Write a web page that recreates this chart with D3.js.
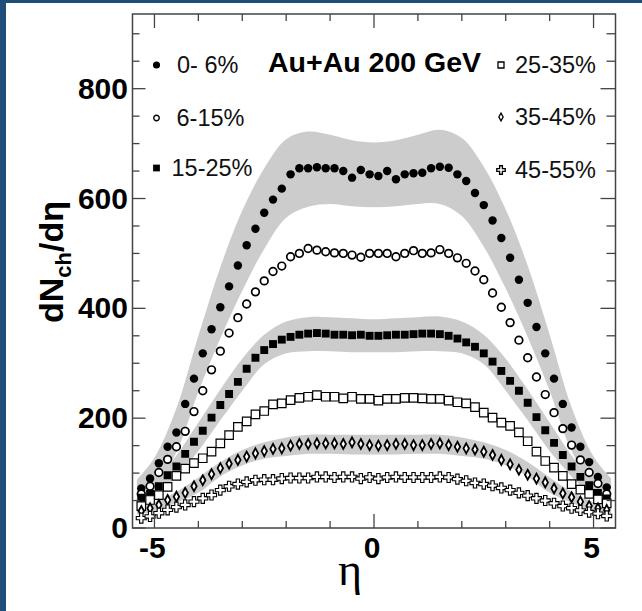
<!DOCTYPE html>
<html>
<head>
<meta charset="utf-8">
<script src="https://cdn.jsdelivr.net/npm/d3@7"></script>
<style>
  html, body { margin: 0; padding: 0; background: #fff; }
  svg { display: block; }
</style>
</head>
<body>
<div id="chart"></div>
<script>
// pseudorapidity bin centres
const eta = [-5.3, -5.1, -4.9, -4.7, -4.5, -4.3, -4.1, -3.9, -3.7, -3.5, -3.3, -3.1, -2.9, -2.7, -2.5, -2.3, -2.1, -1.9, -1.7, -1.5, -1.3, -1.1, -0.9, -0.7, -0.5, -0.3, -0.1,
             0.1, 0.3, 0.5, 0.7, 0.9, 1.1, 1.3, 1.5, 1.7, 1.9, 2.1, 2.3, 2.5, 2.7, 2.9, 3.1, 3.3, 3.5, 3.7, 3.9, 4.1, 4.3, 4.5, 4.7, 4.9, 5.1, 5.3];

const centralities = ["0- 6%", "6-15%", "15-25%", "25-35%", "35-45%", "45-55%"];

const c0_6 = [72, 90, 118, 148, 174, 226, 272, 318, 362, 402, 440, 478, 515, 545, 574, 598, 618, 644, 655, 655, 657, 655, 655, 650, 638, 652, 644,
              641, 650, 635, 644, 646, 647, 655, 658, 656, 644, 632, 610, 588, 560, 528, 492, 452, 410, 366, 318, 272, 226, 183, 148, 120, 93, 74];
const c6_15 = [62, 76, 101, 125, 148, 176, 212, 250, 288, 322, 355, 383, 408, 430, 450, 467, 477, 494, 500, 509, 506, 503, 501, 500, 497, 493, 500,
               500, 500, 494, 500, 505, 500, 501, 507, 500, 492, 482, 468, 452, 428, 402, 374, 342, 310, 275, 243, 210, 181, 151, 124, 101, 81, 62];
const c15_25 = [55, 62, 76, 96, 112, 135, 157, 177, 201, 224, 244, 266, 290, 310, 324, 335, 343, 348, 352, 354, 355, 354, 352, 352, 351, 352, 350,
                350, 351, 352, 352, 353, 354, 354, 353, 350, 345, 338, 330, 318, 303, 286, 268, 250, 228, 202, 178, 155, 133, 112, 93, 78, 64, 54];
const c25_35 = [40, 51, 60, 75, 95, 108, 118, 127, 139, 154, 169, 184, 194, 207, 213, 225, 227, 233, 237, 239, 242, 239, 239, 236, 239, 235, 235,
                232, 235, 235, 237, 237, 236, 235, 235, 232, 229, 227, 220, 210, 201, 192, 186, 174, 158, 139, 122, 110, 95, 80, 70, 62, 52, 45];
const c35_45 = [31, 36, 42, 51, 57, 64, 76, 87, 98, 109, 117, 124, 130, 136, 140, 144, 145, 150, 153, 153, 154, 154, 154, 153, 156, 153, 151,
                150, 151, 153, 153, 151, 151, 153, 154, 151, 148, 145, 143, 139, 133, 124, 116, 106, 97, 90, 83, 72, 63, 56, 48, 40, 36, 33];
const c45_55 = [18, 21, 27, 33, 38, 42, 48, 54, 60, 69, 76, 80, 84, 87, 88, 88, 90, 91, 91, 91, 93, 93, 92, 93, 93, 90, 92,
                90, 92, 93, 92, 92, 92, 92, 93, 92, 89, 86, 82, 80, 77, 73, 69, 64, 59, 54, 50, 45, 40, 36, 32, 29, 26, 22];

// systematic error bands (grey), sampled coarsely
const bandEta = [-5.4, -5.0, -4.5, -4.0, -3.5, -3.0, -2.5, -2.0, -1.5, -1.0, -0.5, 0, 0.5, 1.0, 1.5, 2.0, 2.5, 3.0, 3.5, 4.0, 4.5, 5.0, 5.4];
const band0Hi = [88, 128, 218, 350, 475, 578, 655, 708, 722, 716, 706, 702, 706, 716, 725, 710, 658, 580, 478, 352, 220, 130, 90];
const band0Lo = [48, 76, 138, 248, 345, 432, 508, 565, 585, 590, 586, 584, 586, 590, 590, 568, 512, 436, 348, 250, 140, 78, 50];
const band2Hi = [66, 86, 132, 192, 252, 308, 352, 376, 384, 384, 382, 380, 382, 384, 385, 376, 352, 308, 252, 192, 132, 86, 66];
const band2Lo = [40, 55, 94, 140, 196, 250, 298, 318, 322, 322, 320, 320, 320, 322, 322, 318, 298, 250, 196, 140, 94, 55, 40];
const band4Hi = [40, 47, 66, 92, 120, 142, 156, 165, 170, 170, 170, 170, 170, 170, 170, 165, 156, 142, 120, 92, 66, 47, 40];
const band4Lo = [24, 30, 46, 64, 94, 114, 126, 131, 135, 135, 134, 134, 134, 135, 135, 131, 126, 114, 94, 64, 46, 30, 24];

const yMajor = [0, 200, 400, 600, 800];
const xMajor = [-5, 0, 5];

const W = 642, H = 611;
const box = { left: 132.5, right: 615.5, top: 14, bottom: 528 };

const svg = d3.select("#chart").append("svg")
    .attr("width", W)
    .attr("height", H);

svg.append("rect").attr("width", W).attr("height", H).attr("fill", "#fff");
// slide frame
svg.append("rect").attr("x", 0).attr("y", 0).attr("width", 6).attr("height", H).attr("fill", "#1f4e79");
svg.append("rect").attr("x", 0).attr("y", 0).attr("width", W).attr("height", 3).attr("fill", "#1f4e79");

const x = d3.scaleLinear().domain([-5.5, 5.5]).range([box.left, box.right]);
const y = d3.scaleLinear().domain([0, 936]).range([box.bottom, box.top]);

svg.append("clipPath").attr("id", "plot-clip")
    .append("rect")
    .attr("x", box.left).attr("y", box.top)
    .attr("width", box.right - box.left).attr("height", box.bottom - box.top);

const plot = svg.append("g").attr("clip-path", "url(#plot-clip)");

// bands
const area = d3.area()
    .x((d, i) => x(bandEta[i]))
    .y0(d => y(d[0]))
    .y1(d => y(d[1]))
    .curve(d3.curveCatmullRom);

[[band0Lo, band0Hi], [band2Lo, band2Hi], [band4Lo, band4Hi]].forEach(([lo, hi]) => {
    plot.append("path")
        .datum(lo.map((v, i) => [v, hi[i]]))
        .attr("d", area)
        .attr("fill", "#cccccc");
});

// marker shapes
const tallDiamond = {
    draw(ctx, size) {
        const h = Math.sqrt(size);
        ctx.moveTo(0, -h * 0.62);
        ctx.lineTo(h * 0.34, 0);
        ctx.lineTo(0, h * 0.62);
        ctx.lineTo(-h * 0.34, 0);
        ctx.closePath();
    }
};

const styles = [
    { type: d3.symbolCircle, size: 56, fill: "#000", stroke: "none", sw: 0, lsize: 40 },
    { type: d3.symbolCircle, size: 46, fill: "#fff", stroke: "#000", sw: 1.7, lsize: 24 },
    { type: d3.symbolSquare, size: 62, fill: "#000", stroke: "none", sw: 0, lsize: 46 },
    { type: d3.symbolSquare, size: 72, fill: "#fff", stroke: "#000", sw: 1.2, lsize: 36 },
    { type: tallDiamond, size: 64, fill: "#fff", stroke: "#000", sw: 1.8, lsize: 40 },
    { type: d3.symbolCross, size: 56, fill: "#fff", stroke: "#000", sw: 1.1, lsize: 40 }
];

const series = [c0_6, c6_15, c15_25, c25_35, c35_45, c45_55];

series.forEach((vals, s) => {
    const st = styles[s];
    const sym = d3.symbol().type(st.type).size(st.size);
    plot.append("g").selectAll("path")
        .data(vals)
        .join("path")
        .attr("transform", (d, i) => `translate(${x(eta[i])},${y(d)})`)
        .attr("d", sym)
        .attr("fill", st.fill)
        .attr("stroke", st.stroke)
        .attr("stroke-width", st.sw);
});

// frame and ticks
const axisColor = "#444";
svg.append("rect")
    .attr("x", box.left).attr("y", box.top)
    .attr("width", box.right - box.left).attr("height", box.bottom - box.top)
    .attr("fill", "none")
    .attr("stroke", axisColor)
    .attr("stroke-width", 1.5);

const xTicks = d3.range(-5, 6, 1);
const yTicks = d3.range(0, 936, 50);
const ticks = svg.append("g").attr("stroke", axisColor).attr("stroke-width", 1.3);

xTicks.forEach(t => {
    const major = xMajor.includes(t);
    const len = major ? 14 : 7;
    ticks.append("line").attr("x1", x(t)).attr("x2", x(t)).attr("y1", box.bottom).attr("y2", box.bottom - len);
    ticks.append("line").attr("x1", x(t)).attr("x2", x(t)).attr("y1", box.top).attr("y2", box.top + len);
});
yTicks.forEach(t => {
    const major = yMajor.includes(t);
    ticks.append("line").attr("x1", box.left).attr("x2", box.left + (major ? 13 : 7)).attr("y1", y(t)).attr("y2", y(t));
    ticks.append("line").attr("x1", box.right).attr("x2", box.right - (major ? 15 : 9)).attr("y1", y(t)).attr("y2", y(t));
});

// tick labels
svg.append("g").selectAll("text")
    .data(yMajor)
    .join("text")
    .attr("x", box.left - 4.5)
    .attr("y", d => y(d) + 10)
    .attr("text-anchor", "end")
    .attr("font-family", "Liberation Sans, Arial, sans-serif")
    .attr("font-weight", "bold")
    .attr("font-size", 30)
    .text(d => d);

svg.append("g").selectAll("text")
    .data(xMajor)
    .join("text")
    .attr("x", d => x(d) - 2)
    .attr("y", box.bottom + 30)
    .attr("text-anchor", "middle")
    .attr("font-family", "Liberation Sans, Arial, sans-serif")
    .attr("font-weight", "bold")
    .attr("font-size", 30)
    .text(d => d);

// axis titles
svg.append("text")
    .attr("x", 350)
    .attr("y", 585)
    .attr("text-anchor", "middle")
    .attr("font-family", "Liberation Serif, serif")
    .attr("font-size", 46)
    .text("η");

const yTitle = svg.append("text")
    .attr("transform", "translate(63,262) rotate(-90)")
    .attr("text-anchor", "middle")
    .attr("font-family", "Liberation Sans, Arial, sans-serif")
    .attr("font-weight", "bold")
    .attr("font-size", 34);
yTitle.append("tspan").text("dN");
yTitle.append("tspan").attr("dy", 8).attr("font-size", 22).text("ch");
yTitle.append("tspan").attr("dy", -8).text("/dη");

// title
svg.append("text")
    .attr("x", 268)
    .attr("y", 71.5)
    .attr("font-family", "Liberation Sans, Arial, sans-serif")
    .attr("font-weight", "bold")
    .attr("font-size", 28.5)
    .text("Au+Au 200 GeV");

// legend
const legendPos = [
    { mx: 156.5, my: 65, tx: 177 },
    { mx: 156.5, my: 118, tx: 176.5 },
    { mx: 156.5, my: 168, tx: 171.5 },
    { mx: 501, my: 65, tx: 515 },
    { mx: 501, my: 117, tx: 515 },
    { mx: 501, my: 170, tx: 515 }
];

centralities.forEach((name, s) => {
    const st = styles[s];
    const p = legendPos[s];
    svg.append("path")
        .attr("transform", `translate(${p.mx},${p.my})`)
        .attr("d", d3.symbol().type(st.type).size(st.lsize)())
        .attr("fill", st.fill)
        .attr("stroke", st.stroke)
        .attr("stroke-width", st.sw ? 1.3 : 0);
    svg.append("text")
        .attr("x", p.tx)
        .attr("y", p.my + 8)
        .attr("font-family", "Liberation Sans, Arial, sans-serif")
        .attr("font-size", 23.5)
        .attr("fill", "#111")
        .text(name);
});
</script>
</body>
</html>
